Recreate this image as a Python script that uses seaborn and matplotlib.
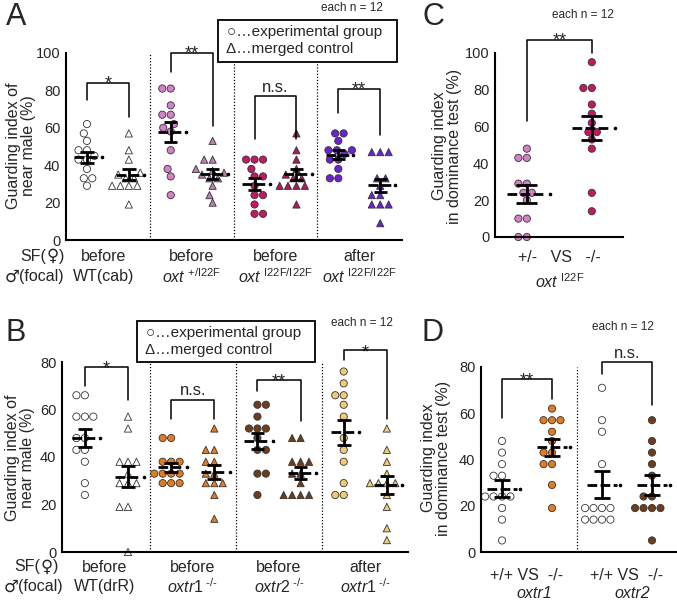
# -*- coding: utf-8 -*-
import numpy as np
import pandas as pd
import seaborn as sns
import matplotlib.pyplot as plt
from matplotlib.patches import Rectangle
from matplotlib.collections import PathCollection
import matplotlib.transforms as mtrans

sns.set_style("white")
plt.rcParams['font.family'] = ['Liberation Sans', 'DejaVu Sans']
plt.rcParams['mathtext.fontset'] = 'custom'
plt.rcParams['mathtext.rm'] = 'Liberation Sans'
plt.rcParams['mathtext.it'] = 'Liberation Sans:italic'

# painel A (guarding index, oxt)
a_wt_e = [62, 57, 53, 48, 48, 45, 43, 43, 38, 33, 33, 29]
a_wt_c = [57, 48, 43, 36, 35, 33, 33, 29, 29, 29, 29, 19]
a_het_e = [81, 81, 72, 67, 67, 62, 60, 58, 48, 38, 34, 24]
a_het_c = [53, 43, 43, 38, 37, 36, 35, 33, 33, 29, 24, 20]
a_hom_e = [43, 43, 43, 38, 34, 34, 29, 24, 24, 19, 14, 14]
a_hom_c = [57, 48, 43, 38, 35, 33, 33, 29, 29, 29, 29, 19]
a_aft_e = [57, 57, 53, 48, 48, 48, 46, 43, 43, 38, 33, 33]
a_aft_c = [47, 47, 47, 33, 33, 29, 24, 24, 19, 19, 19, 9]

# painel B (guarding index, oxtr)
b_wt_e = [66, 66, 57, 57, 57, 48, 48, 43, 43, 38, 29, 24]
b_wt_c = [57, 52, 38, 38, 38, 33, 29, 29, 29, 19, 19, 0]
b_r1_e = [48, 48, 38, 38, 38, 33, 33, 33, 33, 29, 29, 29]
b_r1_c = [52, 43, 43, 38, 38, 33, 33, 29, 29, 29, 24, 14]
b_r2_e = [62, 62, 57, 52, 52, 52, 48, 43, 43, 33, 33, 24]
b_r2_c = [48, 48, 38, 38, 38, 33, 33, 29, 24, 24, 24, 24]
b_aft_e = [76, 71, 66, 66, 62, 57, 48, 43, 38, 29, 24, 24]
b_aft_c = [52, 43, 38, 33, 29, 29, 29, 29, 24, 19, 10, 5]

# painel C (dominance test, oxt)
c_het = [48, 43, 43, 29, 29, 24, 24, 20, 10, 10, 0, 0]
c_hom = [95, 81, 81, 72, 67, 62, 57, 57, 53, 48, 24, 14]

# painel D (dominance test, oxtr1 / oxtr2)
d_r1_wt = [48, 43, 38, 33, 33, 24, 24, 24, 24, 19, 14, 5]
d_r1_ko = [62, 57, 57, 57, 52, 48, 43, 43, 38, 38, 29, 19]
d_r2_wt = [71, 57, 52, 38, 19, 19, 19, 19, 14, 14, 14, 14]
d_r2_ko = [57, 48, 43, 38, 33, 24, 24, 19, 19, 19, 19, 5]

# cores
branco = '#ffffff'
rosa = '#d77fc8'
rosa2 = '#c27cb4'
carmim = '#c41765'
carmim2 = '#a91a5e'
violeta = '#6a22d4'
laranja = '#e07c22'
marrom = '#6e3d1c'
areia = '#f1ca76'

a_vals = [a_wt_e, a_wt_c, a_het_e, a_het_c, a_hom_e, a_hom_c, a_aft_e, a_aft_c]
a_cores = [branco, branco, rosa, rosa2, carmim, carmim2, violeta, violeta]
b_vals = [b_wt_e, b_wt_c, b_r1_e, b_r1_c, b_r2_e, b_r2_c, b_aft_e, b_aft_c]
b_cores = [branco, branco, laranja, laranja, marrom, marrom, areia, areia]
marcas8 = ['o', '^'] * 4

W, H = 677, 600
fig = plt.figure(figsize=(W / 100, H / 100), dpi=100)
HIF = '\u2010'


def px(x0, y0, x1, y1):
    return [x0 / W, 1 - y1 / H, (x1 - x0) / W, (y1 - y0) / H]


def painel(ax, vals, cores, marcas, ymax, xlim, seps):
    nomes = [str(i) for i in range(len(vals))]
    df = pd.DataFrame({'g': np.repeat(nomes, [len(v) for v in vals]),
                       'v': np.concatenate(vals).astype(float)})
    pal = dict(zip(nomes, cores))
    for m in sorted(set(marcas)):
        sel = [n for n, mm in zip(nomes, marcas) if mm == m]
        sub = df[df.g.isin(sel)]
        sns.swarmplot(data=sub, x='g', y='v', order=nomes, hue='g',
                      hue_order=sel, palette={k: pal[k] for k in sel},
                      marker=m, size=5.2, linewidth=0.6, edgecolor='#333333',
                      legend=False, ax=ax, zorder=3)
    for c in ax.collections:
        if isinstance(c, PathCollection) and len(c.get_offsets()) > 0:
            c.set_clip_on(False)
    # media e erro padrao
    for i, v in enumerate(vals):
        m = np.mean(v)
        s = np.std(v, ddof=1) / np.sqrt(len(v))
        ax.plot([i - 0.3, i + 0.3], [m, m], color='k', lw=2,
                ls=(0, (3.5, 1.2)), zorder=5, solid_capstyle='butt')
        ax.plot(i + 0.36, m, 'o', color='k', ms=1.6, zorder=5)
        ax.vlines(i, m - s, m + s, color='k', lw=2, zorder=5)
        ax.hlines([m - s, m + s], i - 0.16, i + 0.16, color='k', lw=2, zorder=5)
    for sx in seps:
        ax.vlines(sx, 0, ymax, color='k', lw=0.9, ls=(0, (1, 1.5)), zorder=1)
    ax.set_xlim(*xlim)
    ax.set_ylim(0, ymax)
    ax.set_yticks(np.arange(0, ymax + 1, 20))
    ax.set_xticks([])
    ax.set_xlabel('')
    ax.set_ylabel('')
    ax.tick_params(length=0, labelsize=10.5, pad=4)
    for lado in ['top', 'right']:
        ax.spines[lado].set_visible(False)
    for lado in ['left', 'bottom']:
        ax.spines[lado].set_linewidth(1.5)
        ax.spines[lado].set_color('k')
        ax.spines[lado].set_zorder(6)


def colchete(ax, x1, x2, y1, yt, y2, txt):
    ax.plot([x1, x1, x2, x2], [y1, yt, yt, y2], color='k', lw=1.1,
            clip_on=False, zorder=4)
    if txt == 'n.s.':
        ax.text((x1 + x2) / 2, yt + 2.0, txt, ha='center', va='baseline',
                fontsize=12, clip_on=False)
    else:
        ax.text((x1 + x2) / 2, yt - 3.0, txt, ha='center', va='baseline',
                fontsize=13, clip_on=False)


def legenda(x0, y0, x1, y1):
    fig.add_artist(Rectangle((x0 / W, 1 - y1 / H), (x1 - x0) / W, (y1 - y0) / H,
                             transform=fig.transFigure, fc='white', ec='k',
                             lw=1.3, zorder=10))
    fig.text((x0 + 9) / W, 1 - (y0 + 12) / H, '○…experimental group',
             fontsize=11, va='center', ha='left', zorder=11)
    fig.text((x0 + 8) / W, 1 - (y0 + 29) / H, 'Δ…merged control',
             fontsize=11, va='center', ha='left', zorder=11)


def rotulo_y(x, y, txt):
    fig.text(x / W, 1 - y / H, txt, rotation=90, ha='center', va='center',
             fontsize=11.5, linespacing=1.05)


def texto_x(ax, x, y, txt, size=11, style='normal'):
    tr = mtrans.blended_transform_factory(ax.transData, fig.transFigure)
    ax.text(x, 1 - y / H, txt, transform=tr, ha='center', va='center',
            fontsize=size, style=style, clip_on=False)


def sexo(xsf, xfo, y1, y2):
    # SF(female) / male(focal), simbolos em DejaVu
    fig.text((xsf - 18) / W, 1 - y1 / H, 'SF(', ha='right', va='center', fontsize=11.5)
    fig.text((xsf - 11.5) / W, 1 - y1 / H, '♀', ha='center', va='center', fontsize=12,
             family='DejaVu Sans')
    fig.text((xsf - 5) / W, 1 - y1 / H, ')', ha='left', va='center', fontsize=11.5)
    fig.text(xfo / W, 1 - y2 / H, '(focal)', ha='right', va='center', fontsize=11.5)
    fig.text((xfo - 52) / W, 1 - y2 / H, '♂', ha='center', va='center', fontsize=12,
             family='DejaVu Sans')


# ----- A -----
axA = fig.add_axes(px(66, 53, 402, 240))
painel(axA, a_vals, a_cores, marcas8, 100, (-0.5, 7.52), [1.5, 3.5, 5.5])
colchete(axA, 0, 1, 75, 84, 66, '*')
colchete(axA, 2, 3, 90, 100, 61, '**')
colchete(axA, 4, 5, 54, 77, 54, 'n.s.')
colchete(axA, 6, 7, 68, 81, 56, '**')
legenda(218, 20, 397, 62)
rotulo_y(21, 146, 'Guarding index of\nnear male (%)')
for xx, l1, l2 in [(0.4, 'before', 'WT(cab)'),
                   (2.5, 'before', r'$\mathit{oxt}^{\ \mathrm{+/I22F}}$'),
                   (4.5, 'before', r'$\mathit{oxt}^{\ \mathrm{I22F/I22F}}$'),
                   (6.5, 'after', r'$\mathit{oxt}^{\ \mathrm{I22F/I22F}}$')]:
    texto_x(axA, xx, 256, l1, size=11.5)
    texto_x(axA, xx, 277, l2, size=11.5)
sexo(64, 64, 256, 277)
fig.text(352 / W, 1 - 8 / H, 'each n = 12', ha='center', va='center', fontsize=8.5)
fig.text(6 / W, 1 - 17 / H, 'A', ha='left', va='center', fontsize=22)

# ----- B -----
axB = fig.add_axes(px(62, 362, 408, 552))
painel(axB, b_vals, b_cores, marcas8, 80, (-0.53, 7.49), [1.5, 3.5, 5.5])
colchete(axB, 0, 1, 70, 78, 64, '*')
colchete(axB, 2, 3, 56, 64, 56, 'n.s.')
colchete(axB, 4, 5, 68, 72.6, 55, '**')
colchete(axB, 6, 7, 81, 85, 56, '*')
legenda(137, 321, 315, 362)
rotulo_y(20, 458, 'Guarding index of\nnear male (%)')
sup = r'^{\ \mathrm{' + HIF + '/' + HIF + '}}'
for xx, l1, l2 in [(0.45, 'before', 'WT(drR)'),
                   (2.5, 'before', r'$\mathit{oxtr1}' + sup + '$'),
                   (4.5, 'before', r'$\mathit{oxtr2}' + sup + '$'),
                   (6.5, 'after', r'$\mathit{oxtr1}' + sup + '$')]:
    texto_x(axB, xx, 567, l1, size=11.5)
    texto_x(axB, xx, 587, l2, size=11.5)
sexo(58, 63, 567, 587)
fig.text(362 / W, 1 - 323 / H, 'each n = 12', ha='center', va='center', fontsize=8.5)
fig.text(5 / W, 1 - 333 / H, 'B', ha='left', va='center', fontsize=22)

# ----- C -----
axC = fig.add_axes(px(495, 53, 623, 237))
painel(axC, [c_het, c_hom], [rosa, carmim], ['o', 'o'], 100, (-0.49, 1.48), [])
colchete(axC, 0, 1, 63, 107, 100, '**')
rotulo_y(447, 146, 'Guarding index\nin dominance test (%)')
texto_x(axC, 0.5, 258, '+/-   VS   -/-', size=11.5)
texto_x(axC, 0.5, 282, r'$\mathit{oxt}^{\ \mathrm{I22F}}$', size=11.5)
fig.text(583 / W, 1 - 15 / H, 'each n = 12', ha='center', va='center', fontsize=8.5)
fig.text(422 / W, 1 - 17 / H, 'C', ha='left', va='center', fontsize=22)

# ----- D -----
axD = fig.add_axes(px(481, 367, 677, 552))
painel(axD, [d_r1_wt, d_r1_ko, d_r2_wt, d_r2_ko], [branco, laranja, branco, marrom],
       ['o'] * 4, 80, (-0.42, 3.5), [1.5])
colchete(axD, 0, 1, 58, 75, 66, '**')
colchete(axD, 2, 3, 77, 82, 63.5, 'n.s.')
rotulo_y(436, 458, 'Guarding index\nin dominance test (%)')
texto_x(axD, 0.5, 575, '+/+ VS  -/-', size=11.5)
texto_x(axD, 2.5, 575, '+/+ VS  -/-', size=11.5)
texto_x(axD, 0.65, 594, 'oxtr1', size=11.5, style='italic')
texto_x(axD, 2.6, 594, 'oxtr2', size=11.5, style='italic')
fig.text(623 / W, 1 - 327 / H, 'each n = 12', ha='center', va='center', fontsize=8.5)
fig.text(422 / W, 1 - 333 / H, 'D', ha='left', va='center', fontsize=22)

fig.savefig('out.png', dpi=100)
plt.close()
